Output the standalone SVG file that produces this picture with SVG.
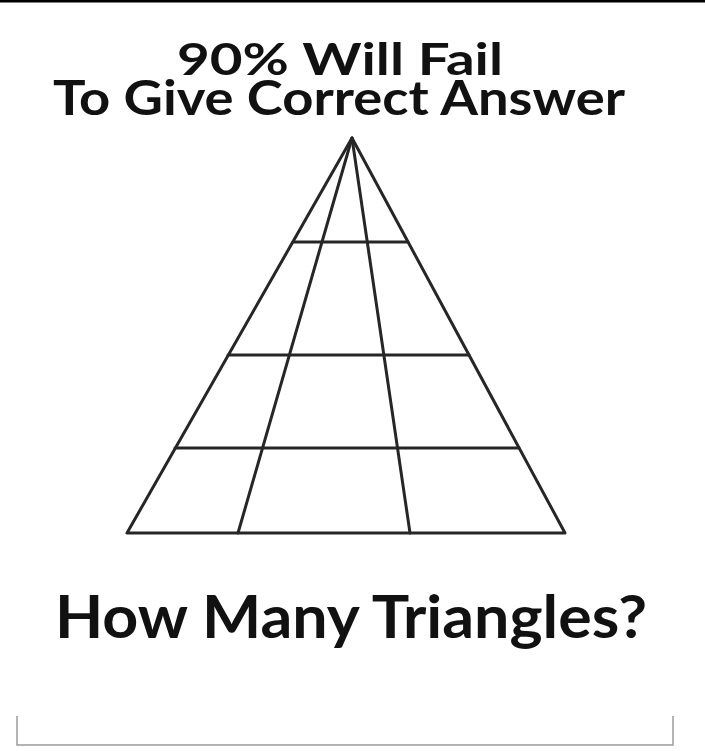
<svg xmlns="http://www.w3.org/2000/svg" width="705" height="751" viewBox="0 0 705 751">
<style>
.t{font-family:"Lato","Liberation Sans",sans-serif;font-weight:bold;fill:#111;}
.ln{stroke:#262626;stroke-width:3;stroke-linecap:round;fill:none;}
</style>
<rect x="0" y="0" width="705" height="751" fill="#ffffff"/>
<rect x="0" y="0" width="705" height="2.5" fill="#000"/>
<g id="title">
<text class="t" x="177" y="75" font-size="43" textLength="326" lengthAdjust="spacingAndGlyphs">90% Will Fail</text>
<text class="t" x="53" y="115" font-size="48" textLength="572" lengthAdjust="spacingAndGlyphs">To Give Correct Answer</text>
</g>
<g id="triangle">
<polygon class="ln" stroke-linejoin="round" points="352,138 127,533 565,533"/>
<line class="ln" x1="352" y1="138" x2="238" y2="533"/>
<line class="ln" x1="352" y1="138" x2="410" y2="533"/>
<line class="ln" x1="293" y1="242" x2="408" y2="242"/>
<line class="ln" x1="228" y1="355" x2="469" y2="355"/>
<line class="ln" x1="175" y1="448" x2="519" y2="448"/>
</g>
<g id="question">
<text class="t" x="55" y="638" font-size="60" textLength="592" lengthAdjust="spacingAndGlyphs">How Many Triangles?</text>
</g>
<g id="box">
<polyline points="17,716 17,745 673,745 673,716" fill="none" stroke="#9a9a9a" stroke-width="1.5"/>
</g>
</svg>
